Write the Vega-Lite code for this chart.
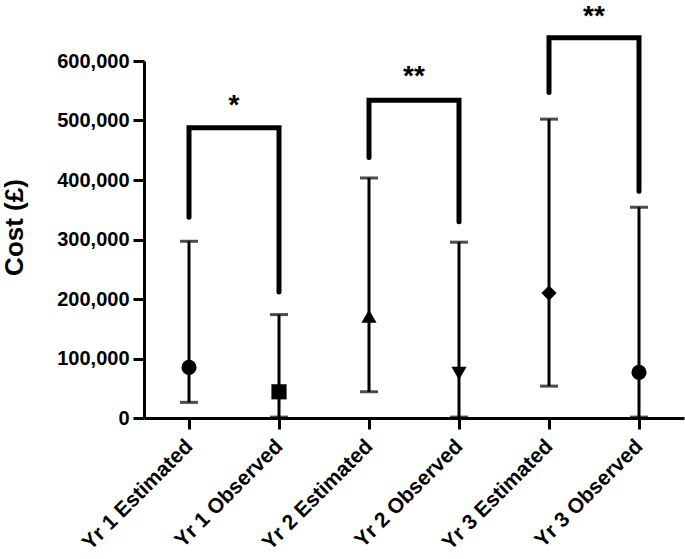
{
  "$schema": "https://vega.github.io/schema/vega-lite/v6.json",
  "autosize": {"type": "none"},
  "width": 540,
  "height": 357,
  "padding": {"left": 144, "top": 61, "right": 1, "bottom": 141},
  "background": "white",
  "config": {
    "view": {"stroke": null},
    "font": "Liberation Sans",
    "axis": {"grid": false, "domainColor": "black", "tickColor": "black", "labelColor": "black", "titleColor": "black", "domainWidth": 3, "tickWidth": 3, "tickSize": 11, "labelFontWeight": "bold", "labelFont": "Liberation Sans", "titleFont": "Liberation Sans"},
    "axisY": {"labelFontSize": 20, "labelPadding": 4},
    "axisX": {"labelFontSize": 21, "labelPadding": 14, "labelAngle": -45, "labelAlign": "right", "labelBaseline": "middle"}
  },
  "datasets": {
    "pts": [
      {"group": "Yr 1 Estimated", "mean": 85000, "lo": 26300, "hi": 297000, "shape": "circle"},
      {"group": "Yr 1 Observed", "mean": 44000, "lo": 1500, "hi": 173800, "shape": "square"},
      {"group": "Yr 2 Estimated", "mean": 171000, "lo": 44100, "hi": 403400, "shape": "triangle-up"},
      {"group": "Yr 2 Observed", "mean": 74900, "lo": 1500, "hi": 295500, "shape": "triangle-down"},
      {"group": "Yr 3 Estimated", "mean": 210000, "lo": 53600, "hi": 502300, "shape": "diamond"},
      {"group": "Yr 3 Observed", "mean": 76600, "lo": 1500, "hi": 354200, "shape": "circle2"}
    ],
    "brackets": [
      {"pair": 1, "group": "Yr 1 Estimated", "value": 337400, "ord": 1},
      {"pair": 1, "group": "Yr 1 Estimated", "value": 488000, "ord": 2},
      {"pair": 1, "group": "Yr 1 Observed", "value": 488000, "ord": 3},
      {"pair": 1, "group": "Yr 1 Observed", "value": 211700, "ord": 4},
      {"pair": 2, "group": "Yr 2 Estimated", "value": 438000, "ord": 1},
      {"pair": 2, "group": "Yr 2 Estimated", "value": 534000, "ord": 2},
      {"pair": 2, "group": "Yr 2 Observed", "value": 534000, "ord": 3},
      {"pair": 2, "group": "Yr 2 Observed", "value": 330000, "ord": 4},
      {"pair": 3, "group": "Yr 3 Estimated", "value": 547000, "ord": 1},
      {"pair": 3, "group": "Yr 3 Estimated", "value": 639000, "ord": 2},
      {"pair": 3, "group": "Yr 3 Observed", "value": 639000, "ord": 3},
      {"pair": 3, "group": "Yr 3 Observed", "value": 381000, "ord": 4}
    ],
    "stars": [
      {"group": "Yr 1 Estimated", "value": 511000, "label": "*"},
      {"group": "Yr 2 Estimated", "value": 559800, "label": "**"},
      {"group": "Yr 3 Estimated", "value": 660000, "label": "**"}
    ]
  },
  "encoding": {
    "x": {
      "field": "group", "type": "nominal",
      "scale": {"type": "point", "padding": 0.5, "domain": ["Yr 1 Estimated", "Yr 1 Observed", "Yr 2 Estimated", "Yr 2 Observed", "Yr 3 Estimated", "Yr 3 Observed"]},
      "axis": {"title": null}
    }
  },
  "layer": [
    {
      "data": {"name": "pts"},
      "mark": {"type": "rule", "color": "black", "strokeWidth": 3},
      "encoding": {
        "y": {"field": "lo", "type": "quantitative", "scale": {"domain": [0, 600000], "nice": false},
          "axis": {"title": "Cost (£)", "values": [0, 100000, 200000, 300000, 400000, 500000, 600000], "format": ",d", "titleFontSize": 26, "titleFontWeight": "bold", "titleAngle": -90, "titleAlign": "center", "titleBaseline": "alphabetic", "titleX": -122, "titleY": 166, "titleLimit": 400}},
        "y2": {"field": "hi"}
      }
    },
    {
      "data": {"name": "pts"},
      "mark": {"type": "tick", "color": "black", "thickness": 3, "size": 18, "orient": "horizontal"},
      "encoding": {"y": {"field": "lo", "type": "quantitative"}}
    },
    {
      "data": {"name": "pts"},
      "mark": {"type": "tick", "color": "black", "thickness": 3, "size": 18, "orient": "horizontal"},
      "encoding": {"y": {"field": "hi", "type": "quantitative"}}
    },
    {
      "data": {"name": "pts"},
      "mark": {"type": "point", "filled": true, "color": "black", "opacity": 1, "size": 230},
      "encoding": {
        "y": {"field": "mean", "type": "quantitative"},
        "shape": {"field": "shape", "type": "nominal", "legend": null,
          "scale": {"domain": ["circle", "square", "triangle-up", "triangle-down", "diamond", "circle2"], "range": ["circle", "square", "triangle-up", "triangle-down", "diamond", "circle"]}}
      }
    },
    {
      "data": {"name": "brackets"},
      "mark": {"type": "line", "color": "black", "strokeWidth": 5, "strokeCap": "round", "strokeJoin": "miter"},
      "encoding": {
        "y": {"field": "value", "type": "quantitative"},
        "detail": {"field": "pair", "type": "nominal"},
        "order": {"field": "ord", "type": "quantitative"}
      }
    },
    {
      "data": {"name": "stars"},
      "mark": {"type": "text", "color": "black", "fontSize": 28, "fontWeight": "bold", "dx": 45, "baseline": "alphabetic", "align": "center"},
      "encoding": {
        "y": {"field": "value", "type": "quantitative"},
        "text": {"field": "label"}
      }
    }
  ]
}
